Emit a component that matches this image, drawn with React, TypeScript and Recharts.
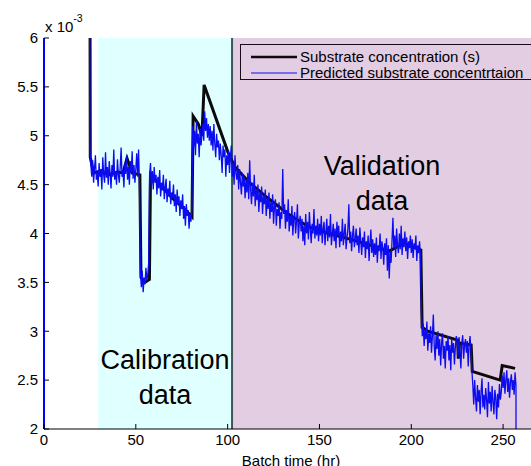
import React from 'react';
import { LineChart, Line, XAxis, YAxis, ReferenceArea, ReferenceLine, Legend } from 'recharts';

const FONT = '"Liberation Sans", Arial, Helvetica, sans-serif';

// Axis ticks
const xTicks = [0, 50, 100, 150, 200, 250];
const yTicks = [2, 2.5, 3, 3.5, 4, 4.5, 5, 5.5, 6];

// Shaded regions (batch time, hr)
const calibrationRange = [29.5, 102.4];
const validationRange = [102.4, 269];

// Series names / colours
const seriesNames = ['Substrate concentration (s)', 'Predicted substrate concentrtaion'];
const seriesColors = ['#0d0a0d', '#0c0cf0'];

// Substrate concentration (x 10^-3), measured
const substrateTime = [24.8, 25.2, 27, 31, 35, 40, 43, 45.2, 48, 52.2, 52.8, 55, 57.4, 58, 64, 70, 76, 80.6, 81.2, 84, 86, 87.2,
  100.2, 104, 112, 122, 133, 144, 155, 167, 178, 188, 196, 205.2, 205.9, 209, 225.2, 225.6, 226.3, 232.6, 233.2, 248.4, 249.5, 256.5];
const substrateValue = [9, 4.78, 4.62, 4.64, 4.6, 4.63, 4.62, 4.77, 4.62, 4.6, 3.55, 3.5, 3.53, 4.6, 4.48, 4.36, 4.26, 4.17, 5.2, 5.12, 5.0, 5.52,
  4.83, 4.68, 4.52, 4.36, 4.2, 4.07, 4.0, 3.94, 3.88, 3.82, 3.9, 3.83, 3.04, 3.0, 2.91, 2.72, 2.88, 2.86, 2.59, 2.5, 2.65, 2.62];

// Predicted substrate concentration, sampled every 0.5 h from t = 25 h to t = 257 h
const predictedStartHour = 25;
const predictedStepHours = 0.5;
const predictedValues = [
  4.85, 4.70, 4.58, 4.75, 4.52, 4.66, 4.80, 4.55, 4.62, 4.48,
  4.72, 4.58, 4.66, 4.45, 4.78, 4.60, 4.52, 4.83, 4.57, 4.68, 4.50, 4.74, 4.62, 4.46, 4.70, 4.58, 4.86, 4.55, 4.64, 4.50,
  4.76, 4.60, 4.52, 4.68, 4.88, 4.58, 4.65, 4.47, 4.72, 4.61, 4.80, 4.55, 4.68, 4.50, 4.74, 4.62, 4.84, 4.56, 4.70, 4.52,
  4.66, 4.82, 4.58, 4.86, 4.48, 3.60, 3.45, 3.62, 3.40, 3.55, 3.48, 3.65, 3.52, 3.58, 3.70, 4.60, 4.72, 4.50, 4.64, 4.45,
  4.68, 4.52, 4.60, 4.40, 4.58, 4.46, 4.65, 4.38, 4.52, 4.44, 4.60, 4.35, 4.48, 4.56, 4.32, 4.46, 4.38, 4.54, 4.30, 4.42,
  4.36, 4.50, 4.28, 4.40, 4.22, 4.45, 4.30, 4.38, 4.18, 4.34, 4.25, 4.40, 4.15, 4.28, 4.08, 4.30, 4.18, 4.24, 4.05, 4.20,
  4.12, 4.25, 5.10, 4.88, 5.05, 4.80, 5.15, 4.92, 5.02, 4.78, 5.08, 4.90, 5.00, 5.12, 4.95, 5.25, 5.05, 5.18, 4.98, 5.12,
  4.95, 5.10, 4.90, 5.05, 4.85, 5.12, 4.92, 4.78, 5.02, 4.88, 4.95, 4.75, 4.92, 4.80, 4.62, 4.90, 4.78, 4.86, 4.58, 4.80,
  4.70, 4.85, 4.62, 4.78, 4.90, 4.58, 4.72, 4.50, 4.80, 4.62, 4.55, 4.70, 4.45, 4.66, 4.52, 4.40, 4.62, 4.48, 4.58, 4.36,
  4.55, 4.42, 4.62, 4.35, 4.75, 4.45, 4.30, 4.52, 4.38, 4.60, 4.28, 4.46, 4.34, 4.50, 4.22, 4.42, 4.32, 4.48, 4.20, 4.38,
  4.30, 4.45, 4.18, 4.36, 4.25, 4.42, 4.15, 4.32, 4.22, 4.40, 4.10, 4.28, 4.35, 4.08, 4.25, 4.18, 4.32, 4.05, 4.22, 4.15,
  4.66, 4.20, 4.30, 4.05, 4.24, 4.12, 4.35, 4.02, 4.18, 4.08, 4.28, 3.98, 4.15, 4.22, 4.00, 4.12, 4.30, 3.95, 4.10, 4.18,
  4.02, 4.15, 3.92, 4.08, 3.88, 4.20, 4.00, 4.12, 3.94, 4.22, 4.05, 3.90, 4.10, 4.00, 4.25, 3.95, 4.08, 3.98, 4.15, 3.92,
  4.10, 3.98, 4.18, 3.90, 4.05, 4.12, 3.88, 4.02, 4.15, 3.92, 4.08, 3.96, 4.20, 3.88, 4.00, 4.10, 3.92, 4.05, 3.85, 4.12,
  3.98, 4.08, 3.86, 4.02, 3.92, 4.15, 3.88, 4.00, 4.10, 3.84, 3.96, 4.05, 4.30, 3.90, 4.02, 3.82, 3.98, 4.08, 3.86, 3.95,
  4.05, 3.88, 3.98, 3.80, 4.06, 3.92, 3.78, 3.96, 3.86, 4.02, 3.75, 3.92, 3.84, 3.98, 3.72, 3.90, 4.04, 3.80, 3.94, 3.76,
  3.90, 3.78, 3.96, 3.70, 3.88, 3.82, 4.00, 3.74, 3.92, 3.85, 3.68, 3.90, 3.78, 3.95, 3.62, 3.88, 3.54, 3.82, 3.70, 3.92,
  4.16, 3.85, 3.98, 3.76, 4.05, 3.88, 3.80, 4.00, 3.84, 4.08, 3.78, 3.95, 3.86, 4.02, 3.82, 3.96, 3.74, 3.92, 3.85, 3.98,
  3.80, 3.94, 3.75, 3.90, 3.84, 3.98, 3.72, 3.88, 3.80, 3.92, 3.78, 3.20, 2.95, 3.08, 2.85, 3.02, 2.92, 3.10, 2.80, 2.98,
  2.88, 3.05, 2.78, 2.95, 3.17, 2.85, 2.70, 2.96, 2.82, 3.00, 2.75, 2.92, 2.65, 2.88, 2.98, 2.72, 2.85, 2.62, 2.90, 2.80,
  2.95, 2.70, 2.86, 2.60, 2.92, 2.78, 2.88, 2.66, 2.84, 2.95, 2.90, 2.74, 2.94, 2.80, 2.62, 2.88, 2.96, 2.72, 2.85, 2.92,
  2.78, 2.90, 2.64, 2.86, 2.95, 2.80, 2.60, 2.45, 2.25, 2.50, 2.32, 2.18, 2.45, 2.28, 2.40, 2.15, 2.38, 2.52, 2.22, 2.35,
  2.20, 2.42, 2.30, 2.12, 2.48, 2.26, 2.38, 2.18, 2.44, 2.28, 2.15, 2.40, 2.32, 2.10, 2.36, 2.22, 2.46, 2.30, 2.38, 2.55,
  2.42, 2.58, 2.36, 2.50, 2.60, 2.38, 2.52, 2.32, 2.48, 2.56, 2.40, 2.50, 2.35, 2.58, 2.45,
];
// Start (drop from off-scale) and end (drop to zero) of the prediction
const predictedLeadTime = [24.8];
const predictedLeadValue = [9];
const predictedTailTime = [257.2];
const predictedTailValue = [0];

const substrateData = substrateTime.map((t, i) => ({ t, v: substrateValue[i] }));
const predictedData = [
  ...predictedLeadTime.map((t, i) => ({ t, v: predictedLeadValue[i] })),
  ...predictedValues.map((v, i) => ({ t: predictedStartHour + i * predictedStepHours, v })),
  ...predictedTailTime.map((t, i) => ({ t, v: predictedTailValue[i] })),
];

const XTick = (props: any) => {
  const { x, y, payload } = props;
  return (
    <g>
      <line x1={x} x2={x} y1={y - 5} y2={y - 10} stroke="#000" strokeWidth={1} />
      <text x={x} y={y} dy="0.71em" textAnchor="middle" fontFamily={FONT} fontSize={15} fill="#000">
        {payload.value}
      </text>
    </g>
  );
};

const YTick = (props: any) => {
  const { x, y, payload } = props;
  return (
    <g>
      <line x1={x + 6} x2={x + 11} y1={y} y2={y} stroke="#000" strokeWidth={1} />
      <text x={x} y={y} dy="0.355em" textAnchor="end" fontFamily={FONT} fontSize={15} fill="#000">
        {payload.value}
      </text>
    </g>
  );
};

const calibLabel = (p: any) => {
  const vb = p.viewBox || {};
  const cx = vb.x + vb.width / 2;
  return (
    <text x={cx} y={vb.y + 331} textAnchor="middle" fontFamily={FONT} fontSize={27} fill="#000">
      <tspan x={cx} y={vb.y + 331}>Calibration</tspan>
      <tspan x={cx} y={vb.y + 366}>data</tspan>
    </text>
  );
};

const validLabel = (p: any) => {
  const vb = p.viewBox || {};
  const cx = vb.x + 150;
  return (
    <text x={cx} y={vb.y + 137} textAnchor="middle" fontFamily={FONT} fontSize={27} fill="#000">
      <tspan x={cx} y={vb.y + 137}>Validation</tspan>
      <tspan x={cx} y={vb.y + 172}>data</tspan>
    </text>
  );
};

const yUnitLabel = (p: any) => {
  const vb = p.viewBox || {};
  const x = vb.x + vb.width + 1;
  return (
    <text x={x} y={vb.y - 6} fontFamily={FONT} fontSize={15} fill="#000">
      x 10<tspan dy={-10} fontSize={10.5}>-3</tspan>
    </text>
  );
};

const xTitle = (p: any) => {
  const vb = p.viewBox || {};
  return (
    <text x={vb.x + vb.width / 2} y={vb.y + 37} textAnchor="middle" fontFamily={FONT} fontSize={15} fill="#000">
      Batch time (hr)
    </text>
  );
};

const LegendBox = () => (
  <div
    style={{
      position: 'relative',
      width: 300,
      height: 36,
      border: '1px solid #1a0a1a',
      boxSizing: 'border-box',
      fontFamily: FONT,
      fontSize: 15,
      lineHeight: '16px',
      color: '#000',
    }}
  >
    {seriesNames.map((name, i) => (
      <div key={name} style={{ position: 'absolute', left: 0, top: 4 + i * 16, height: 16, width: 300, whiteSpace: 'nowrap' }}>
        <svg width={46} height={16} style={{ position: 'absolute', left: 10, top: 0 }}>
          <line x1={0} x2={46} y1={8} y2={8} stroke={seriesColors[i]} strokeWidth={i === 0 ? 2.5 : 1} />
        </svg>
        <span style={{ position: 'absolute', left: 59, top: 0 }}>{name}</span>
      </div>
    ))}
  </div>
);

export default function App() {
  return (
    <div style={{ position: 'absolute', left: 0, top: 0, width: 531, height: 466, overflow: 'hidden', background: '#fff' }}>
      <LineChart width={545} height={466} margin={{ top: 38, right: 7, bottom: 0, left: 0 }}>
        <ReferenceArea
          x1={calibrationRange[0]}
          x2={calibrationRange[1]}
          y1={2}
          y2={6}
          fill="#E0FFFF"
          fillOpacity={1}
          stroke="none"
          label={calibLabel}
        />
        <ReferenceArea
          x1={validationRange[0]}
          x2={validationRange[1]}
          y1={2}
          y2={6}
          fill="#E3CDE3"
          fillOpacity={1}
          stroke="none"
          label={validLabel}
        />
        <ReferenceLine x={calibrationRange[1]} stroke="#3f5656" strokeWidth={2} />
        <XAxis
          type="number"
          dataKey="t"
          domain={[0, 269]}
          ticks={xTicks}
          interval={0}
          allowDataOverflow
          height={37}
          tickLine={false}
          tickSize={0}
          tickMargin={5}
          axisLine={{ stroke: '#000', strokeWidth: 1 }}
          tick={XTick}
          label={xTitle}
        />
        <YAxis
          type="number"
          domain={[2, 6]}
          ticks={yTicks}
          interval={0}
          allowDataOverflow
          width={44}
          tickLine={false}
          tickSize={0}
          tickMargin={6}
          axisLine={{ stroke: '#0000ff', strokeWidth: 2 }}
          tick={YTick}
          label={yUnitLabel}
        />
        <Line
          data={substrateData}
          dataKey="v"
          name={seriesNames[0]}
          stroke={seriesColors[0]}
          strokeWidth={3}
          dot={false}
          isAnimationActive={false}
        />
        <Line
          data={predictedData}
          dataKey="v"
          name={seriesNames[1]}
          stroke={seriesColors[1]}
          strokeWidth={1.3}
          dot={false}
          isAnimationActive={false}
        />
        <Legend
          layout="horizontal"
          verticalAlign="middle"
          align="center"
          content={LegendBox}
          wrapperStyle={{ left: 240, top: 44, width: 300, height: 36 }}
        />
      </LineChart>
    </div>
  );
}
